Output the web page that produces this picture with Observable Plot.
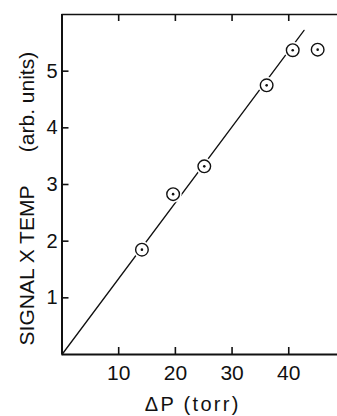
<!DOCTYPE html>
<html>
<head>
<meta charset="utf-8">
<script src="https://cdn.jsdelivr.net/npm/d3@7"></script>
<script src="https://cdn.jsdelivr.net/npm/@observablehq/plot@0.6"></script>
<style>
  html, body { margin: 0; padding: 0; background: #fff; }
  #chart svg { display: block; }
</style>
</head>
<body>
<div id="chart"></div>
<script>
// Data
const pressure = [14.1, 19.6, 25.1, 36.1, 40.7, 45.1];      // ΔP (torr)
const signal   = [1.85, 2.83, 3.32, 4.75, 5.37, 5.38];      // signal x temp (arb. units)
const fitP = [0, 42.7];
const fitS = [0, 5.72];
const xTicks = [10, 20, 30, 40];
const xTickLabels = ["10", "20", "30", "40"];
const yTicks = [1, 2, 3, 4, 5];
const yTickLabels = ["1", "2", "3", "4", "5"];
const xLabel = "ΔP (torr)";
const yLabelMain = "SIGNAL X TEMP";
const yLabelUnit = "(arb. units)";

const points = pressure.map((p, i) => ({p, s: signal[i]}));
const fit = fitP.map((p, i) => ({p, s: fitS[i]}));

const W = 337, H = 416;
const mL = 61.5, mT = 14, mB = 62, mR = 0;
const frameW = W - mL - mR, frameH = H - mT - mB;
const font = "Liberation Sans, Arial, Helvetica, sans-serif";
const tick = 7;
const ink = "#111";

const chart = Plot.plot({
  width: W,
  height: H,
  marginLeft: mL,
  marginTop: mT,
  marginBottom: mB,
  marginRight: mR,
  style: {fontFamily: font, background: "#fff", color: ink},
  x: {domain: [0, 48.6], axis: null},
  y: {domain: [0, 6], axis: null},
  marks: [
    // frame lines
    Plot.ruleX([0], {stroke: ink, strokeWidth: 2}),
    Plot.ruleY([0], {stroke: ink, strokeWidth: 2}),
    Plot.ruleY([6], {stroke: ink, strokeWidth: 1.6}),
    // inward ticks
    Plot.tickX(xTicks, {x: d => d, insetTop: frameH - tick, stroke: ink, strokeWidth: 1.6}),
    Plot.tickX(xTicks, {x: d => d, insetBottom: frameH - tick, stroke: ink, strokeWidth: 1.6}),
    Plot.tickY(yTicks, {y: d => d, insetRight: frameW - tick, stroke: ink, strokeWidth: 1.6}),
    // tick labels
    Plot.text(xTicks, {x: d => d, text: (d, i) => xTickLabels[i], frameAnchor: "bottom", lineAnchor: "middle", dy: 19, fontSize: 21, fill: ink}),
    Plot.text(yTicks, {y: d => d, text: (d, i) => yTickLabels[i], frameAnchor: "left", textAnchor: "end", lineAnchor: "middle", dx: -4.5, fontSize: 20, fill: ink}),
    // axis labels
    Plot.text([xLabel], {text: d => d, frameAnchor: "bottom", lineAnchor: "middle", textAnchor: "middle", dx: -7, dy: 50, fontSize: 20, fill: ink}),
    Plot.text([yLabelMain], {text: d => d, frameAnchor: "left", textAnchor: "middle", lineAnchor: "middle", rotate: -90, dx: -35, dy: 81, fontSize: 21, fill: ink}),
    Plot.text([yLabelUnit], {text: d => d, frameAnchor: "left", textAnchor: "middle", lineAnchor: "middle", rotate: -90, dx: -35, dy: -82.5, fontSize: 21, fill: ink}),
    // fit line
    Plot.line(fit, {x: "p", y: "s", stroke: ink, strokeWidth: 1.3}),
    // data points
    Plot.dot(points, {x: "p", y: "s", r: 8.5, fill: "#fff", stroke: null}),
    Plot.dot(points, {x: "p", y: "s", r: 6.3, fill: "#fff", stroke: ink, strokeWidth: 1.4}),
    Plot.dot(points, {x: "p", y: "s", r: 1.3, fill: ink, stroke: null})
  ]
});
// widen the x-axis title's letter spacing as in the reference
d3.select(chart).selectAll("text").filter(function() { return this.textContent === xLabel; })
  .style("letter-spacing", "2.3px");
document.getElementById("chart").appendChild(chart);
</script>
</body>
</html>
